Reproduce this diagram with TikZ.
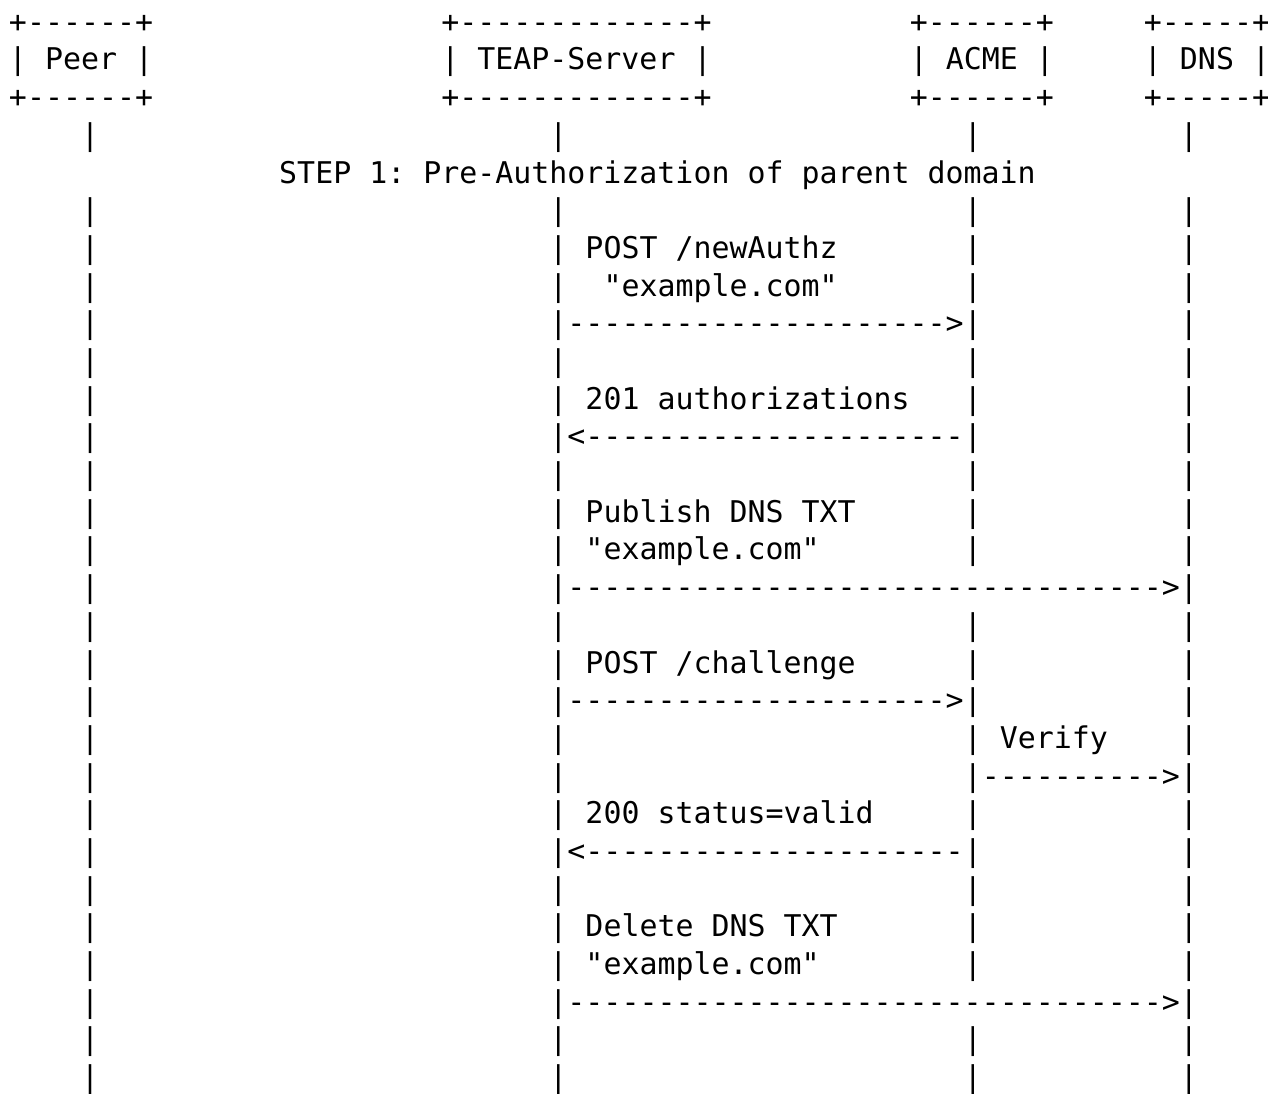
\documentclass[tikz,border=0pt]{standalone}
\usepackage{fontspec}
\setmonofont{DejaVu Sans Mono}
% n hyphens in a row
\newcommand\dashrun[1]{\ifnum#1>0 -\expandafter\dashrun\expandafter{\the\numexpr#1-1\relax}\fi}
\tikzset{
  cell/.style={anchor=base west, inner sep=0pt, outer sep=0pt, text=black,
    font=\ttfamily\fontsize{14.96pt}{18.845pt}\selectfont},
}
\begin{document}
% one x unit = one character column, one y unit = one text row
\begin{tikzpicture}[x=9.0075pt, y=-18.845pt]
\useasboundingbox (0,0) rectangle (70.386,29.0);
\begin{scope}[shift={(0.4996,0.857)}]
  % participants
  \node[cell] (peer-top) at (0,0) {+\dashrun{6}+};
  \node[cell] (peer)     at (0,1) {| Peer |};
  \node[cell] (peer-bot) at (0,2) {+\dashrun{6}+};
  \node[cell] (teap-top) at (24,0) {+\dashrun{13}+};
  \node[cell] (teap)     at (24,1) {| TEAP-Server |};
  \node[cell] (teap-bot) at (24,2) {+\dashrun{13}+};
  \node[cell] (acme-top) at (50,0) {+\dashrun{6}+};
  \node[cell] (acme)     at (50,1) {| ACME |};
  \node[cell] (acme-bot) at (50,2) {+\dashrun{6}+};
  \node[cell] (dns-top)  at (63,0) {+\dashrun{5}+};
  \node[cell] (dns)      at (63,1) {| DNS |};
  \node[cell] (dns-bot)  at (63,2) {+\dashrun{5}+};
  % lifelines
  \foreach \r in {3,5,6,...,28} {
    \node[cell] (peer-\r) at (4,\r) {|};
    \node[cell] (teap-\r) at (30,\r) {|};
    \node[cell] (dns-\r)  at (65,\r) {|};
  }
  \foreach \r in {3,5,6,7,8,9,10,11,12,13,14,16,17,18,19,20,21,22,23,24,25,27,28} {
    \node[cell] (acme-\r) at (53,\r) {|};
  }
  % phase title
  \node[cell] (step1) at (15,4) {STEP 1: Pre-Authorization of parent domain};
  % messages
  \node[cell] (newauthz)   at (32,6)  {POST /newAuthz};
  \node[cell] (newauthz-d) at (33,7)  {"example.com"};
  \node[cell] (msg1)       at (31,8)  {\dashrun{21}>};
  \node[cell] (authz)      at (32,10) {201 authorizations};
  \node[cell] (msg2)       at (31,11) {<\dashrun{21}};
  \node[cell] (publish)    at (32,13) {Publish DNS TXT};
  \node[cell] (publish-d)  at (32,14) {"example.com"};
  \node[cell] (msg3)       at (31,15) {\dashrun{33}>};
  \node[cell] (challenge)  at (32,17) {POST /challenge};
  \node[cell] (msg4)       at (31,18) {\dashrun{21}>};
  \node[cell] (verify)     at (55,19) {Verify};
  \node[cell] (msg5)       at (54,20) {\dashrun{10}>};
  \node[cell] (valid)      at (32,21) {200 status=valid};
  \node[cell] (msg6)       at (31,22) {<\dashrun{21}};
  \node[cell] (delete)     at (32,24) {Delete DNS TXT};
  \node[cell] (delete-d)   at (32,25) {"example.com"};
  \node[cell] (msg7)       at (31,26) {\dashrun{33}>};
\end{scope}
\end{tikzpicture}
\end{document}
